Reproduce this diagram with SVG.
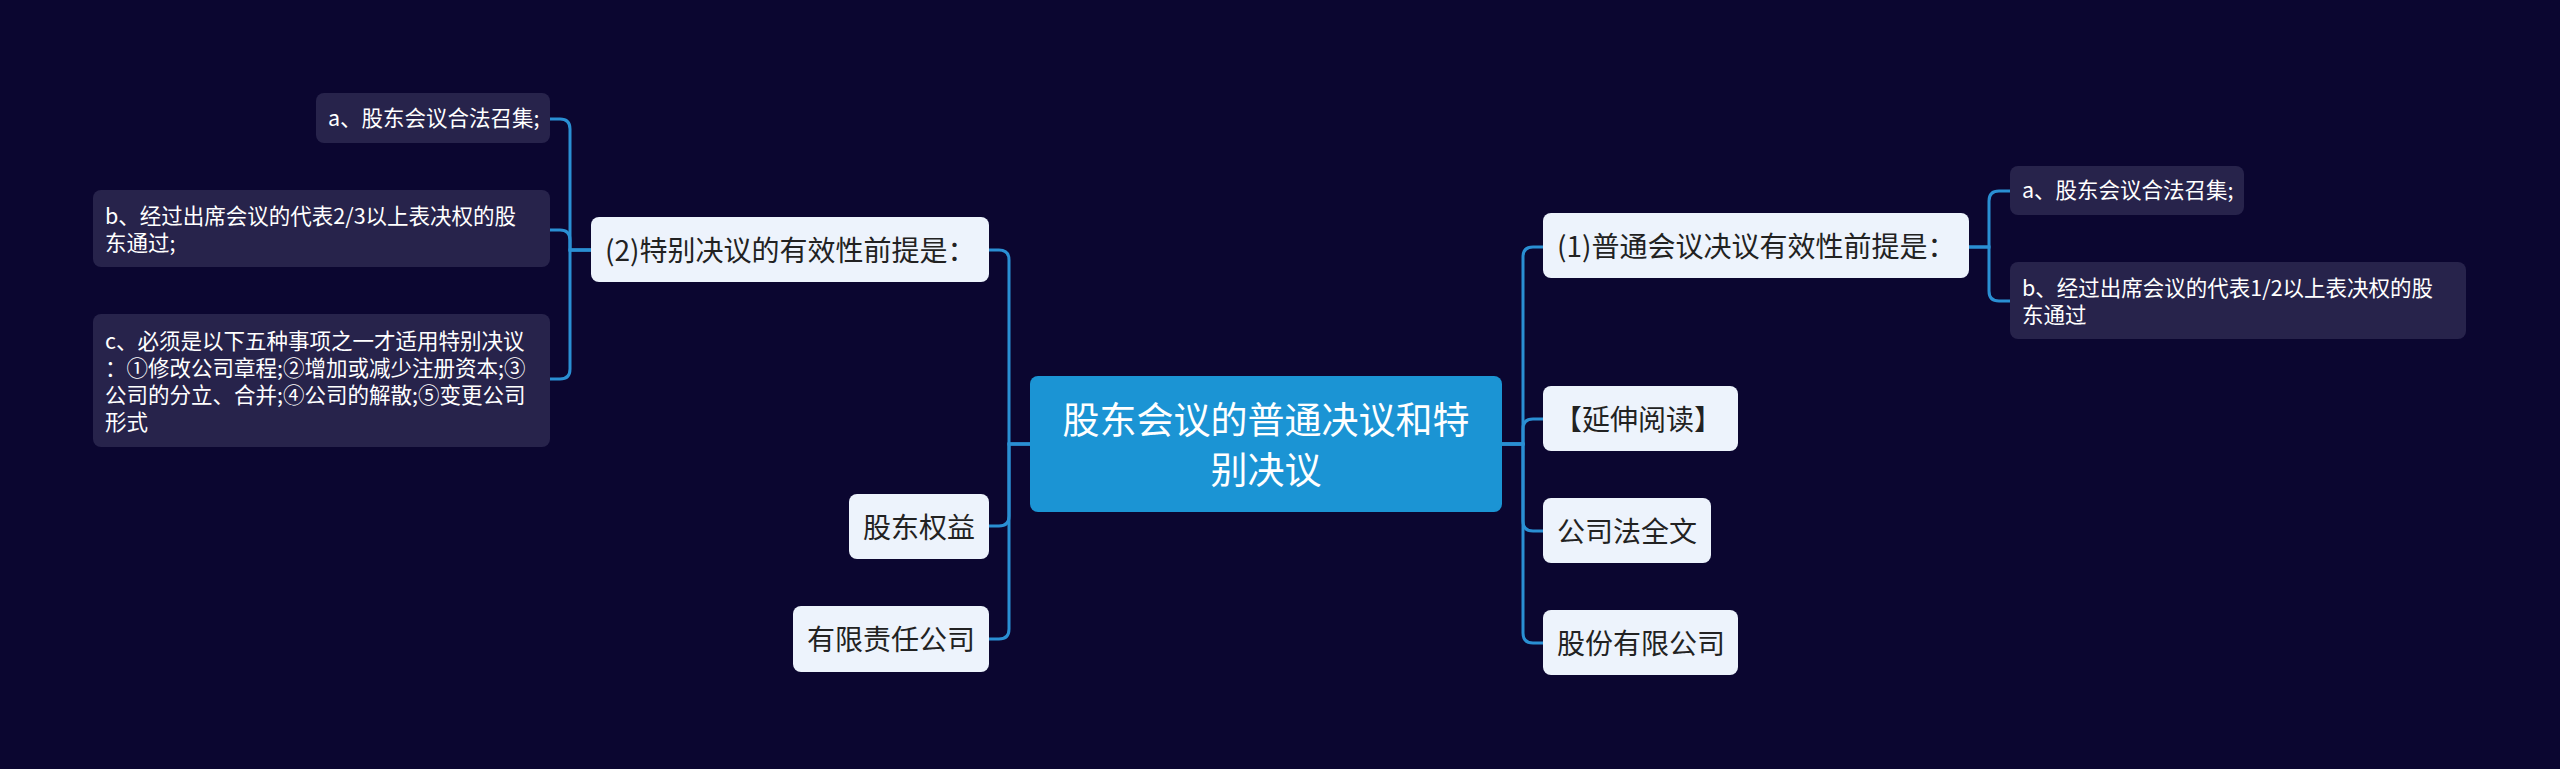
<svg xmlns="http://www.w3.org/2000/svg" width="2560" height="769" viewBox="0 0 2560 769">
<style>
.bg{fill:#0b0630}
.center{fill:#1b94d4}
.light{fill:#edf3fc}
.dark{fill:#27234b}
.ct{font-family:"Noto Sans CJK SC","Noto Sans",sans-serif;font-size:37px;fill:#ffffff;text-anchor:middle}
.lt{font-family:"Noto Sans CJK SC","Noto Sans",sans-serif;font-size:28px;fill:#222222}
.st{font-family:"Noto Sans CJK SC","Noto Sans",sans-serif;font-size:21.5px;fill:#ffffff}
.link{fill:none;stroke:#2a8fd3;stroke-width:3}
</style>
<rect class="bg" x="0" y="0" width="2560" height="769"/>
<g id="connectors">
<path class="link" d="M1030,444 H1009 V260 Q1009,250 999,250 H989"/>
<path class="link" d="M1030,444 H1009 V516 Q1009,526 999,526 H989"/>
<path class="link" d="M1030,444 H1009 V629 Q1009,639 999,639 H989"/>
<path class="link" d="M1502,444 H1523 V257 Q1523,247 1533,247 H1543"/>
<path class="link" d="M1502,444 H1523 V429 Q1523,419 1533,419 H1543"/>
<path class="link" d="M1502,444 H1523 V521 Q1523,531 1533,531 H1543"/>
<path class="link" d="M1502,444 H1523 V633 Q1523,643 1533,643 H1543"/>
<path class="link" d="M1969,247 H1989 V201 Q1989,191 1999,191 H2010"/>
<path class="link" d="M1969,247 H1989 V291 Q1989,301 1999,301 H2010"/>
<path class="link" d="M591,250 H570 V129 Q570,119 560,119 H550"/>
<path class="link" d="M591,250 H570 V240 Q570,230 560,230 H550"/>
<path class="link" d="M591,250 H570 V369 Q570,379 560,379 H550"/>
</g>
<g id="root">
<rect class="center" x="1030" y="376" width="472" height="136" rx="8"/>
<text class="ct" x="1266" y="434">股东会议的普通决议和特</text>
<text class="ct" x="1266" y="484">别决议</text>
</g>
<g id="n-special">
<rect class="light" x="591" y="217" width="398" height="65" rx="8"/>
<text class="lt" x="605" y="261">(2)特别决议的有效性前提是：</text>
</g>
<g id="n-special-a">
<rect class="dark" x="316" y="93" width="234" height="50" rx="8"/>
<text class="st" x="328" y="126">a、股东会议合法召集;</text>
</g>
<g id="n-special-b">
<rect class="dark" x="93" y="190" width="457" height="77" rx="8"/>
<text class="st" x="105" y="224">b、经过出席会议的代表2/3以上表决权的股</text>
<text class="st" x="105" y="251">东通过;</text>
</g>
<g id="n-special-c">
<rect class="dark" x="93" y="314" width="457" height="133" rx="8"/>
<text class="st" x="105" y="349">c、必须是以下五种事项之一才适用特别决议</text>
<text class="st" x="105" y="376">：①修改公司章程;②增加或减少注册资本;③</text>
<text class="st" x="105" y="403">公司的分立、合并;④公司的解散;⑤变更公司</text>
<text class="st" x="105" y="430">形式</text>
</g>
<g id="n-rights">
<rect class="light" x="849" y="494" width="140" height="65" rx="8"/>
<text class="lt" x="863" y="538">股东权益</text>
</g>
<g id="n-llc">
<rect class="light" x="793" y="606" width="196" height="66" rx="8"/>
<text class="lt" x="807" y="650">有限责任公司</text>
</g>
<g id="n-ordinary">
<rect class="light" x="1543" y="213" width="426" height="65" rx="8"/>
<text class="lt" x="1557" y="257">(1)普通会议决议有效性前提是：</text>
</g>
<g id="n-ordinary-a">
<rect class="dark" x="2010" y="166" width="234" height="49" rx="8"/>
<text class="st" x="2022" y="198">a、股东会议合法召集;</text>
</g>
<g id="n-ordinary-b">
<rect class="dark" x="2010" y="262" width="456" height="77" rx="8"/>
<text class="st" x="2022" y="296">b、经过出席会议的代表1/2以上表决权的股</text>
<text class="st" x="2022" y="323">东通过</text>
</g>
<g id="n-read">
<rect class="light" x="1543" y="386" width="195" height="65" rx="8"/>
<text class="lt" x="1554" y="430">【延伸阅读】</text>
</g>
<g id="n-law">
<rect class="light" x="1543" y="498" width="168" height="65" rx="8"/>
<text class="lt" x="1557" y="542">公司法全文</text>
</g>
<g id="n-jsc">
<rect class="light" x="1543" y="610" width="195" height="65" rx="8"/>
<text class="lt" x="1557" y="654">股份有限公司</text>
</g>
</svg>
